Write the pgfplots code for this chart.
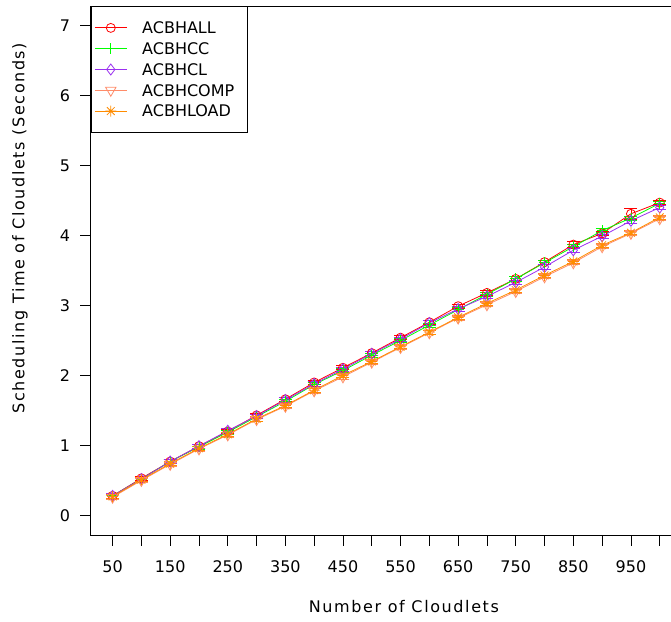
\documentclass[border=0pt]{standalone}
\usepackage{fontspec}
\setmainfont{DejaVu Sans}
\newfontfamily\spaced[LetterSpace=10]{DejaVu Sans}
\usepackage{pgfplots}
\usepackage{pgfplotstable}
\pgfplotsset{compat=1.18}

\definecolor{cAll}{HTML}{FF0000}
\definecolor{cCC}{HTML}{00FF00}
\definecolor{cCL}{HTML}{9B30F0}
\definecolor{cComp}{HTML}{FF8C69}
\definecolor{cLoad}{HTML}{FF8C00}

% R pch 8: eight-pointed asterisk
\pgfdeclareplotmark{rstar}{%
  \pgfpathmoveto{\pgfqpoint{-\pgfplotmarksize}{0pt}}\pgfpathlineto{\pgfqpoint{\pgfplotmarksize}{0pt}}%
  \pgfpathmoveto{\pgfqpoint{0pt}{-\pgfplotmarksize}}\pgfpathlineto{\pgfqpoint{0pt}{\pgfplotmarksize}}%
  \pgfpathmoveto{\pgfqpoint{-.707\pgfplotmarksize}{-.707\pgfplotmarksize}}\pgfpathlineto{\pgfqpoint{.707\pgfplotmarksize}{.707\pgfplotmarksize}}%
  \pgfpathmoveto{\pgfqpoint{-.707\pgfplotmarksize}{.707\pgfplotmarksize}}\pgfpathlineto{\pgfqpoint{.707\pgfplotmarksize}{-.707\pgfplotmarksize}}%
  \pgfusepathqstroke}

\newcommand\lbl{\fontsize{16.06}{19}\selectfont}

\pgfplotstableread{
x y e
50 0.28 0.03
100 0.53 0.03
150 0.77 0.03
200 0.99 0.03
250 1.20 0.03
300 1.43 0.03
350 1.66 0.03
400 1.90 0.03
450 2.11 0.03
500 2.32 0.03
550 2.54 0.03
600 2.76 0.03
650 2.99 0.03
700 3.18 0.03
750 3.38 0.03
800 3.62 0.03
850 3.87 0.04
900 4.03 0.03
950 4.31 0.08
1000 4.47 0.03
}\tabAll

\pgfplotstableread{
x y e
50 0.28 0.03
100 0.52 0.03
150 0.77 0.03
200 0.98 0.03
250 1.19 0.03
300 1.41 0.03
350 1.63 0.03
400 1.87 0.03
450 2.07 0.03
500 2.29 0.03
550 2.50 0.03
600 2.72 0.03
650 2.94 0.03
700 3.16 0.03
750 3.38 0.03
800 3.61 0.03
850 3.84 0.03
900 4.07 0.03
950 4.25 0.03
1000 4.46 0.03
}\tabCC

\pgfplotstableread{
x y e
50 0.28 0.03
100 0.52 0.03
150 0.77 0.03
200 0.99 0.03
250 1.21 0.03
300 1.42 0.03
350 1.65 0.03
400 1.88 0.03
450 2.09 0.03
500 2.31 0.03
550 2.52 0.03
600 2.75 0.03
650 2.95 0.03
700 3.13 0.03
750 3.33 0.03
800 3.55 0.03
850 3.79 0.03
900 3.99 0.03
950 4.21 0.03
1000 4.40 0.03
}\tabCL

\pgfplotstableread{
x y e
50 0.26 0.03
100 0.50 0.03
150 0.73 0.03
200 0.95 0.03
250 1.15 0.03
300 1.37 0.03
350 1.56 0.03
400 1.78 0.03
450 1.98 0.03
500 2.19 0.03
550 2.40 0.03
600 2.61 0.03
650 2.82 0.03
700 3.01 0.03
750 3.20 0.03
800 3.41 0.03
850 3.61 0.03
900 3.84 0.03
950 4.03 0.03
1000 4.24 0.03
}\tabComp

\pgfplotstableread{
x y e
50 0.27 0.03
100 0.51 0.03
150 0.74 0.03
200 0.96 0.03
250 1.16 0.03
300 1.38 0.03
350 1.57 0.03
400 1.79 0.03
450 2.00 0.03
500 2.20 0.03
550 2.41 0.03
600 2.62 0.03
650 2.83 0.03
700 3.03 0.03
750 3.22 0.03
800 3.43 0.03
850 3.63 0.03
900 3.86 0.03
950 4.04 0.03
1000 4.26 0.03
}\tabLoad

\begin{document}
\begin{tikzpicture}
\useasboundingbox (-90.7bp,-87bp) rectangle (580.3bp,535bp);
\begin{axis}[
  scale only axis,
  width=590.9bp, height=529bp,
  at={(0,0)}, anchor=south west,
  xmin=12, xmax=1038,
  ymin=-0.28, ymax=7.28,
  xtick={50,100,...,1000},
  xticklabels={50,,150,,250,,350,,450,,550,,650,,750,,850,,950,},
  ytick={0,1,...,7},
  tick align=outside,
  xtick pos=bottom, ytick pos=left,
  major tick length=10.7bp,
  tick style={black, line width=0.8bp},
  axis line style={black, line width=0.8bp},
  /pgf/number format/assume math mode=true,
  ticklabel style={font=\lbl},
  xticklabel style={anchor=base, yshift=-27bp},
  yticklabel style={anchor=center, xshift=-15bp},
  xlabel={Number of Cloudlets},
  ylabel={Scheduling Time of Cloudlets (Seconds)},
  label style={font=\lbl\spaced},
  xlabel style={at={(rel axis cs:0.530,0)}, anchor=center, yshift=-72bp},
  ylabel style={at={(rel axis cs:0,0.580)}, anchor=center, yshift=70.7bp},
  legend style={at={(0,1)}, anchor=north west, draw=black, line width=0.8bp,
    font=\lbl, inner xsep=3.3bp, inner ysep=13.5bp, row sep=4.8bp, column sep=15bp,
    nodes={inner sep=0pt, text height=13.85bp, text depth=2.15bp}},
  legend cell align=left,
  legend image code/.code={%
    \draw[mark repeat=2, mark phase=2] plot coordinates {(0bp,0bp) (16bp,0bp) (32bp,0bp)};},
  every axis plot/.append style={line width=0.8bp, mark size=5bp},
  error bars/y dir=both,
  error bars/y explicit,
  error bars/error bar style={line width=0.8bp},
  error bars/error mark options={rotate=90, mark size=6.5bp, line width=0.8bp},
]
\addplot[cAll, mark=o, mark size=4.5bp] table[x=x, y=y, y error=e] {\tabAll};
\addlegendentry{ACBHALL}
\addplot[cCC, mark=+, mark size=5.5bp] table[x=x, y=y, y error=e] {\tabCC};
\addlegendentry{ACBHCC}
\addplot[cCL, mark=diamond, mark size=5.5bp] table[x=x, y=y, y error=e] {\tabCL};
\addlegendentry{ACBHCL}
\addplot[cComp, mark=triangle, mark size=6bp, mark options={rotate=180}] table[x=x, y=y, y error=e] {\tabComp};
\addlegendentry{ACBHCOMP\hspace*{10bp}}
\addplot[cLoad, mark=rstar, mark size=5.5bp] table[x=x, y=y, y error=e] {\tabLoad};
\addlegendentry{ACBHLOAD}
\end{axis}
\end{tikzpicture}
\end{document}
